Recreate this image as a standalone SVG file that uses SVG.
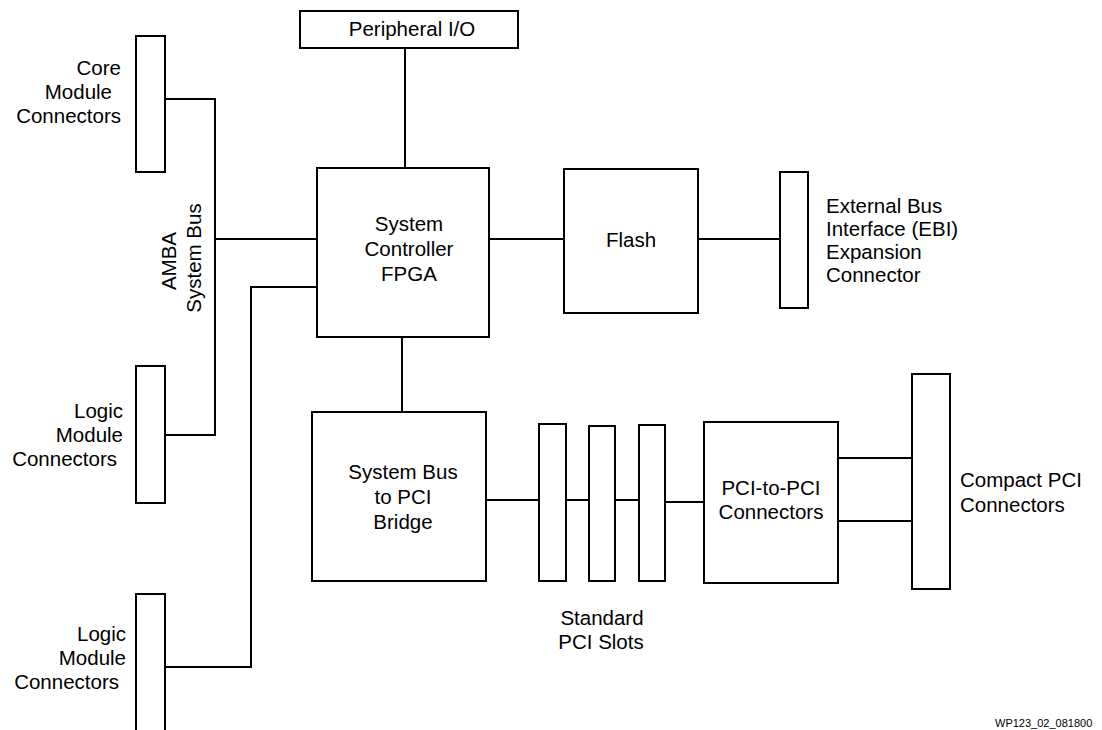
<svg xmlns="http://www.w3.org/2000/svg" width="1102" height="730" viewBox="0 0 1102 730">
  <style>
    .box { fill: #ffffff; stroke: #000000; stroke-width: 2; }
    .wire { fill: none; stroke: #000000; stroke-width: 2; }
    text { font-family: "Liberation Sans", Arial, sans-serif; font-size: 20.5px; fill: #000000; }
    .mid { text-anchor: middle; }
    .end { text-anchor: end; }
    .tag { font-size: 11px; }
  </style>
  <rect width="1102" height="730" fill="#ffffff"/>

  <!-- bus wiring -->
  <g id="connectors">
    <path class="wire" d="M165,99 H215 V435 H165"/>
    <path class="wire" d="M215,239 H317"/>
    <path class="wire" d="M165,667 H251 V287 H317"/>
    <path class="wire" d="M405,48 V168"/>
    <path class="wire" d="M489,239 H564"/>
    <path class="wire" d="M698,239 H780"/>
    <path class="wire" d="M402,337 V412"/>
    <path class="wire" d="M486,500 H539"/>
    <path class="wire" d="M566,500 H589"/>
    <path class="wire" d="M615,500 H639"/>
    <path class="wire" d="M665,502 H704"/>
    <path class="wire" d="M838,458 H912"/>
    <path class="wire" d="M838,521 H912"/>
  </g>

  <g id="peripheral-io">
    <rect class="box" x="300" y="11" width="218" height="37"/>
    <text class="mid" x="412" y="36">Peripheral I/O</text>
  </g>

  <g id="core-module-connectors">
    <rect class="box" x="136" y="36" width="29" height="136"/>
    <text class="end" x="121" y="75">Core</text>
    <text class="end" x="112" y="99">Module</text>
    <text class="end" x="121" y="123">Connectors</text>
  </g>

  <g id="logic-module-connectors-1">
    <rect class="box" x="136" y="366" width="29" height="137"/>
    <text class="end" x="123" y="418">Logic</text>
    <text class="end" x="123" y="442">Module</text>
    <text class="end" x="117" y="466">Connectors</text>
  </g>

  <g id="logic-module-connectors-2">
    <rect class="box" x="136" y="594" width="29" height="137"/>
    <text class="end" x="126" y="641">Logic</text>
    <text class="end" x="126" y="665">Module</text>
    <text class="end" x="119" y="689">Connectors</text>
  </g>

  <g id="amba-system-bus">
    <text class="mid" x="176" y="261" transform="rotate(-90 176 261)">AMBA</text>
    <text class="mid" x="201" y="258" transform="rotate(-90 201 258)">System Bus</text>
  </g>

  <g id="system-controller-fpga">
    <rect class="box" x="317" y="168" width="172" height="169"/>
    <text class="mid" x="409" y="231">System</text>
    <text class="mid" x="409" y="256">Controller</text>
    <text class="mid" x="409" y="281">FPGA</text>
  </g>

  <g id="flash">
    <rect class="box" x="564" y="169" width="134" height="144"/>
    <text class="mid" x="631" y="247">Flash</text>
  </g>

  <g id="ebi-expansion-connector">
    <rect class="box" x="780" y="172" width="28" height="136"/>
    <text x="826" y="213">External Bus</text>
    <text x="826" y="236">Interface (EBI)</text>
    <text x="826" y="259">Expansion</text>
    <text x="826" y="282">Connector</text>
  </g>

  <g id="system-bus-to-pci-bridge">
    <rect class="box" x="312" y="412" width="174" height="169"/>
    <text class="mid" x="403" y="479">System Bus</text>
    <text class="mid" x="403" y="504">to PCI</text>
    <text class="mid" x="403" y="529">Bridge</text>
  </g>

  <g id="standard-pci-slots">
    <rect class="box" x="539" y="424" width="27" height="157"/>
    <rect class="box" x="589" y="426" width="26" height="155"/>
    <rect class="box" x="639" y="425" width="26" height="156"/>
    <text class="mid" x="602" y="625">Standard</text>
    <text class="mid" x="601" y="649">PCI Slots</text>
  </g>

  <g id="pci-to-pci-connectors">
    <rect class="box" x="704" y="422" width="134" height="161"/>
    <text class="mid" x="771" y="495">PCI-to-PCI</text>
    <text class="mid" x="771" y="519">Connectors</text>
  </g>

  <g id="compact-pci-connectors">
    <rect class="box" x="912" y="374" width="38" height="215"/>
    <text x="960" y="487">Compact PCI</text>
    <text x="960" y="512">Connectors</text>
  </g>

  <text class="tag" x="995" y="727">WP123_02_081800</text>
</svg>
